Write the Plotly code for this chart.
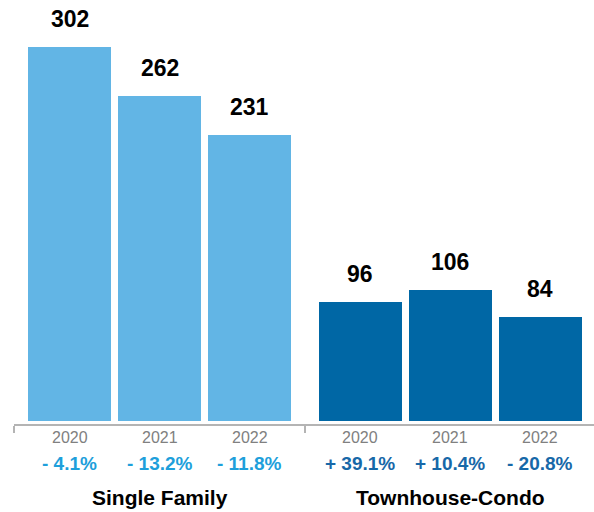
import plotly.graph_objects as go

groups = ["Single Family", "Townhouse-Condo"]
years = ["2020", "2021", "2022"]
single_family = [302, 262, 231]
townhouse_condo = [96, 106, 84]
sf_change = ["- 4.1%", "- 13.2%", "- 11.8%"]
tc_change = ["+ 39.1%", "+ 10.4%", "- 20.8%"]

bar_colors = ["#62B5E5", "#0067A5"]
pct_colors = ["#1E9FDB", "#1768A8"]
series = [single_family, townhouse_condo]
changes = [sf_change, tc_change]

GAP = 0.228
n = len(years)

def xpos(g, i):
    return g * (n + GAP) + i

fig = go.Figure()
FONT = "Liberation Sans, Arial, Helvetica, sans-serif"
annotations = []
for g, (name, vals) in enumerate(zip(groups, series)):
    xs = [xpos(g, i) for i in range(n)]
    fig.add_trace(go.Bar(x=xs, y=vals, width=83 / 90, marker=dict(color=bar_colors[g], line=dict(width=0)),
                         name=name, showlegend=False, hoverinfo="y"))
    for i, v in enumerate(vals):
        annotations.append(dict(x=xs[i], y=v, xref="x", yref="y", text=f"<b>{v}</b>", showarrow=False,
                                yanchor="middle", yshift=28, font=dict(size=23, color="#000000", family=FONT)))
        annotations.append(dict(x=xs[i], y=0, xref="x", yref="y", text=years[i], showarrow=False,
                                yanchor="middle", yshift=-16, font=dict(size=16, color="#808080", family=FONT)))
        annotations.append(dict(x=xs[i], y=0, xref="x", yref="y", text=f"<b>{changes[g][i]}</b>", showarrow=False,
                                yanchor="middle", yshift=-42, font=dict(size=19, color=pct_colors[g], family=FONT)))
    annotations.append(dict(x=xs[1], y=0, xref="x", yref="y", text=f"<b>{name}</b>", showarrow=False,
                            yanchor="middle", yshift=-76, font=dict(size=21, color="#000000", family=FONT)))

x0 = -0.617
x1 = x0 + 580 / 90
mid = (xpos(0, n - 1) + xpos(1, 0)) / 2
scale = 1.24
y0 = -3 / scale
y1 = 414 / scale + y0

fig.update_layout(
    width=594, height=512,
    margin=dict(l=14, r=0, t=10, b=88, autoexpand=False),
    paper_bgcolor="white", plot_bgcolor="white",
    annotations=annotations,
    bargap=0,
    xaxis=dict(range=[x0, x1], showgrid=False, zeroline=False, showline=True, linecolor="#B4B4B4", linewidth=2,
               tickvals=[x0, mid], ticktext=["", ""], ticks="outside", ticklen=7, tickwidth=2, tickcolor="#B4B4B4",
               automargin=False),
    yaxis=dict(range=[y0, y1], visible=False, showgrid=False, zeroline=False, automargin=False),
)

fig.write_html("out.html", config={"displayModeBar": False},
               post_script="document.body.style.margin='0';document.body.style.overflow='hidden';")
